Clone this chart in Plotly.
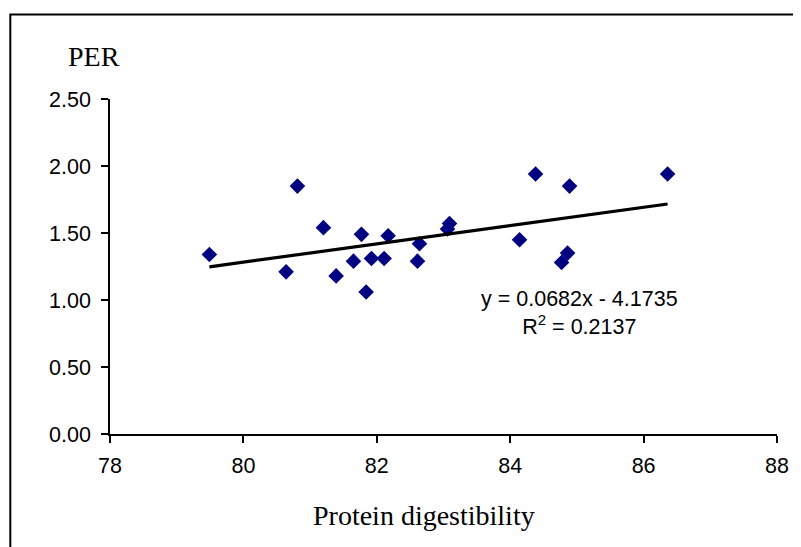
import plotly.graph_objects as go

# Data
digestibility = [79.49, 80.64, 80.81, 81.20, 81.39, 81.65, 81.77, 81.84, 81.92, 82.11, 82.17,
                 82.61, 82.64, 83.06, 83.09, 84.14, 84.38, 84.77, 84.86, 84.89, 86.36]
per = [1.34, 1.21, 1.85, 1.54, 1.18, 1.29, 1.49, 1.06, 1.31, 1.31, 1.48,
       1.29, 1.42, 1.53, 1.57, 1.45, 1.94, 1.28, 1.35, 1.85, 1.94]
slope = 0.0682
intercept = -4.1735
r2 = 0.2137

x_ticks = [78, 80, 82, 84, 86, 88]
y_ticks = [0.0, 0.5, 1.0, 1.5, 2.0, 2.5]

trend_x = [min(digestibility), max(digestibility)]
trend_y = [slope * v + intercept for v in trend_x]

fig = go.Figure()
fig.add_trace(go.Scatter(x=digestibility, y=per, mode="markers",
                         marker=dict(symbol="diamond", size=12, color="#000080"),
                         showlegend=False))
fig.add_trace(go.Scatter(x=trend_x, y=trend_y, mode="lines",
                         line=dict(color="black", width=3.2), showlegend=False))

# page body has an 8px margin; work in page pixels and convert
OFF = 8
W, H = 801 - OFF, 547 - OFF
PX0, PX1 = 110, 779     # plot area left/right in page px
PY0, PY1 = 99.3, 434    # plot area top/bottom in page px
L, R = PX0 - OFF, W - (PX1 - OFF)
T, B = PY0 - OFF, H - (PY1 - OFF)
pw, ph = PX1 - PX0, PY1 - PY0

def px(xp):
    return (xp - PX0) / pw

def py(yp):
    return (PY1 - yp) / ph

fig.update_layout(
    width=W, height=H,
    margin=dict(l=L, r=R, t=T, b=B, pad=0),
    plot_bgcolor="white", paper_bgcolor="white",
    xaxis=dict(range=[78, 88], tickvals=x_ticks, ticktext=[str(v) for v in x_ticks],
               showgrid=False, zeroline=False, showline=True, linecolor="black", linewidth=1.5,
               ticks="outside", ticklen=7, tickwidth=1.5, tickcolor="black", ticklabelstandoff=4,
               tickfont=dict(family="Liberation Sans, Arial", size=21.5, color="black")),
    yaxis=dict(range=[0, 2.5], tickvals=y_ticks, ticktext=[f"{v:.2f}" for v in y_ticks],
               showgrid=False, zeroline=False, showline=True, linecolor="black", linewidth=1.5,
               ticks="outside", ticklen=7, tickwidth=1.5, tickcolor="black", ticklabelstandoff=6,
               tickfont=dict(family="Liberation Sans, Arial", size=21.5, color="black")),
    shapes=[dict(type="rect", xref="paper", yref="paper",
                 x0=px(10), x1=px(830), y0=py(570), y1=py(15),
                 line=dict(color="black", width=2), fillcolor="rgba(0,0,0,0)", layer="below")],
    annotations=[
        dict(text="PER", xref="paper", yref="paper", x=px(94), y=py(57),
             showarrow=False, xanchor="center", yanchor="middle",
             font=dict(family="Liberation Serif, Times New Roman", size=28, color="black")),
        dict(text="Protein digestibility", xref="paper", yref="paper", x=px(425), y=py(515),
             showarrow=False, xanchor="center", yanchor="middle",
             font=dict(family="Liberation Serif, Times New Roman", size=28, color="black")),
        dict(text=f"y = {slope}x - {abs(intercept)}<br>R<sup>2</sup> = {r2}",
             xref="paper", yref="paper", x=px(581), y=py(313),
             showarrow=False, xanchor="center", yanchor="middle", align="center",
             font=dict(family="Liberation Sans, Arial", size=21.5, color="black")),
    ],
)

fig.write_html("out.html")
